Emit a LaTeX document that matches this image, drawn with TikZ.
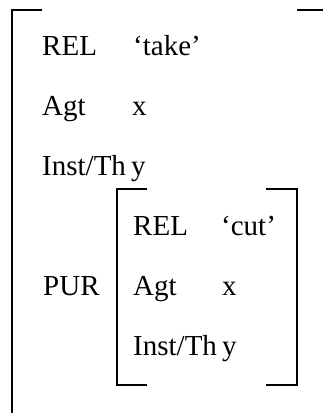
\documentclass[tikz,border=0pt]{standalone}
\usepackage{fontspec}
\setmainfont{Liberation Serif}
\begin{document}
\begin{tikzpicture}[x=1pt,y=-1pt,
  txt/.style={anchor=base west, inner sep=0pt, font=\fontsize{29}{35}\selectfont},
  brk/.style={line width=2pt, line join=miter, line cap=butt}]
\useasboundingbox (0,0) rectangle (323,413);
% outer bracket (cut off at right and bottom)
\coordinate (o1) at (42,10);
\coordinate (o2) at (12,10);
\coordinate (o3) at (12,413);
\coordinate (o4) at (297,10);
\coordinate (o5) at (323,10);
\draw[brk] (o1) -- (o2) -- (o3);
\draw[brk] (o4) -- (o5);
% outer rows
\node[txt] (rel1) at (42,55) {REL};
\node[txt] (take) at (133,55) {‘take’};
\node[txt] (agt1) at (42,115) {Agt};
\node[txt] (x1) at (132,115) {x};
\node[txt] (ins1) at (42,175) {Inst/Th};
\node[txt] (y1) at (131,175) {y};
\node[txt] (pur) at (43,295) {PUR};
% inner bracket
\coordinate (i1) at (147,189);
\coordinate (i2) at (117,189);
\coordinate (i3) at (117,385);
\coordinate (i4) at (147,385);
\coordinate (i5) at (266,189);
\coordinate (i6) at (297,189);
\coordinate (i7) at (297,385);
\coordinate (i8) at (266,385);
\draw[brk] (i1) -- (i2) -- (i3) -- (i4);
\draw[brk] (i5) -- (i6) -- (i7) -- (i8);
% inner rows
\node[txt] (rel2) at (133,235) {REL};
\node[txt] (cut) at (221,235) {‘cut’};
\node[txt] (agt2) at (133,295) {Agt};
\node[txt] (x2) at (222,295) {x};
\node[txt] (ins2) at (133,355) {Inst/Th};
\node[txt] (y2) at (222,355) {y};
\end{tikzpicture}
\end{document}
